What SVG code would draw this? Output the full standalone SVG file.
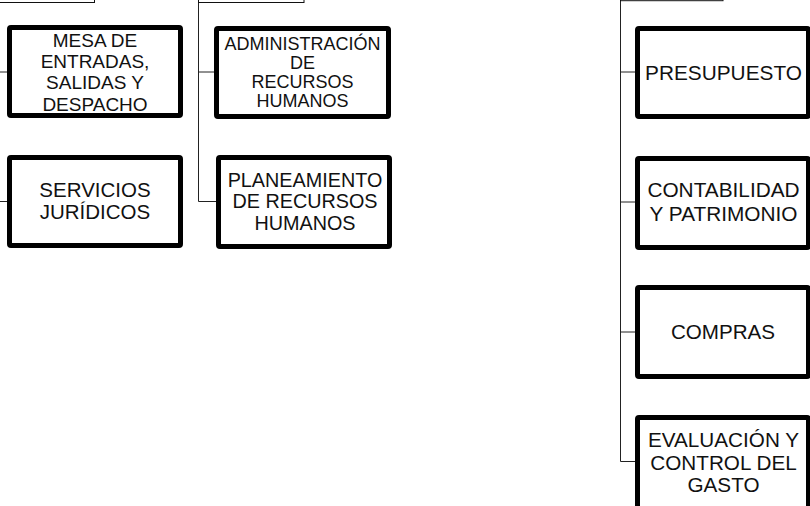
<svg xmlns="http://www.w3.org/2000/svg" width="810" height="506" viewBox="0 0 810 506">
<style>
.box{fill:#fff;stroke:#000;stroke-width:5;}
.parent{fill:#fff;stroke:#111;stroke-width:1;}
.t{font-family:"Liberation Sans",Arial,sans-serif;fill:#111;text-anchor:middle;}
.c{stroke:#222;stroke-width:1;fill:none;}
</style>
<rect width="810" height="506" fill="#fff"/>
<g id="connectors">
<path class="c" d="M0,72 H8"/>
<path class="c" d="M0,201.5 H8"/>
<path class="c" d="M198.5,0 V201.5 H216"/>
<path class="c" d="M198.5,72 H214"/>
<path class="c" d="M620.5,0 V461.5 H635"/>
<path class="c" d="M620.5,72 H635"/>
<path class="c" d="M620.5,202 H635"/>
<path class="c" d="M620.5,332 H635"/>
</g>
<g id="parent-left"><rect class="parent" x="-40.5" y="-40" width="135" height="42.5"/></g>
<g id="parent-middle"><rect class="parent" x="198.5" y="-40" width="105.5" height="42.5"/></g>
<g id="parent-right"><rect class="parent" x="620.5" y="-40" width="102.5" height="40.7"/></g>
<g id="mesa">
<rect class="box" x="9.5" y="27.5" width="171" height="88" rx="1.5"/>
<text class="t" font-size="19" x="95"><tspan x="95" y="46.5">MESA DE</tspan><tspan x="95" y="68">ENTRADAS,</tspan><tspan x="95" y="89.3">SALIDAS Y</tspan><tspan x="95" y="110.5">DESPACHO</tspan></text>
</g>
<g id="servicios">
<rect class="box" x="9.5" y="157.5" width="171" height="88" rx="1.5"/>
<text class="t" font-size="20.5"><tspan x="95" y="196.7">SERVICIOS</tspan><tspan x="95" y="219">JURÍDICOS</tspan></text>
</g>
<g id="administracion">
<rect class="box" x="216.5" y="28.5" width="172" height="88" rx="1.5"/>
<text class="t" font-size="18"><tspan x="302.5" y="50">ADMINISTRACIÓN</tspan><tspan x="302.5" y="68.5">DE</tspan><tspan x="302.5" y="88.3">RECURSOS</tspan><tspan x="302.5" y="107.3">HUMANOS</tspan></text>
</g>
<g id="planeamiento">
<rect class="box" x="218.5" y="157.5" width="171" height="89" rx="1.5"/>
<text class="t" font-size="19.8"><tspan x="305" y="186.7">PLANEAMIENTO</tspan><tspan x="305" y="208.3">DE RECURSOS</tspan><tspan x="305" y="230">HUMANOS</tspan></text>
</g>
<g id="presupuesto">
<rect class="box" x="637.5" y="28.5" width="171" height="88" rx="1.5"/>
<text class="t" font-size="20.8" x="723.5" y="80">PRESUPUESTO</text>
</g>
<g id="contabilidad">
<rect class="box" x="637.5" y="158.5" width="171" height="89" rx="1.5"/>
<text class="t" font-size="20.8"><tspan x="723.5" y="196.7">CONTABILIDAD</tspan><tspan x="723.5" y="220.5">Y PATRIMONIO</tspan></text>
</g>
<g id="compras">
<rect class="box" x="637.5" y="287.5" width="171" height="89" rx="1.5"/>
<text class="t" font-size="20.6" x="723" y="339">COMPRAS</text>
</g>
<g id="evaluacion">
<rect class="box" x="637.5" y="417.5" width="171" height="92" rx="1.5"/>
<text class="t" font-size="20.7"><tspan x="723.5" y="446.7">EVALUACIÓN Y</tspan><tspan x="723.5" y="470">CONTROL DEL</tspan><tspan x="723.5" y="491.7">GASTO</tspan></text>
</g>
</svg>
